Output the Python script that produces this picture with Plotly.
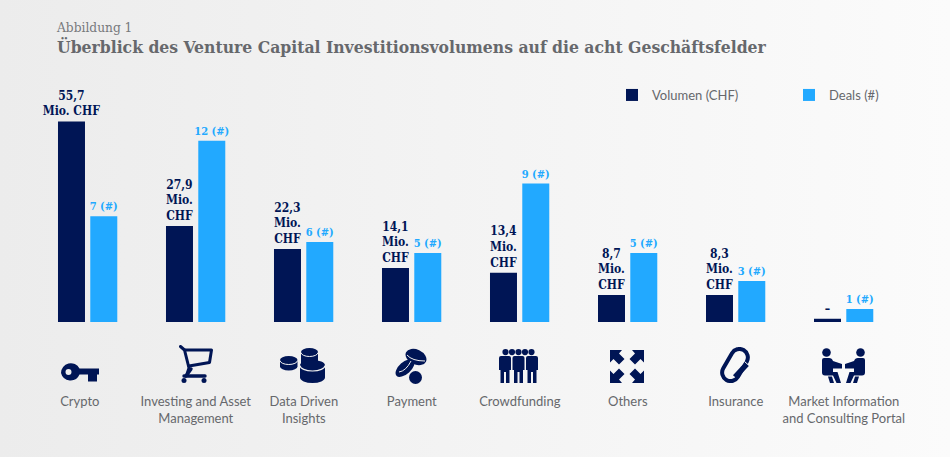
"""Venture Capital Investitionsvolumen nach Geschaeftsfeld."""
import base64

import plotly.graph_objects as go

WIDTH, HEIGHT = 950, 457
NAVY = "#001555"
SKY = "#22a9ff"
GREY = "#66686c"
SERIF = "DejaVu Serif Condensed, DejaVu Serif, serif"
SANS = "Lato, Open Sans, sans-serif"

categories = [
    "Crypto",
    "Investing and Asset<br>Management",
    "Data Driven<br>Insights",
    "Payment",
    "Crowdfunding",
    "Others",
    "Insurance",
    "Market Information<br>and Consulting Portal",
]
# Die Balken im Original sind nicht proportional: Hoehen
volume_bars = [55.7, 26.7, 20.3, 15.0, 13.7, 7.5, 7.5, 0.9]
deals_bars = [7.0, 12.0, 5.3, 4.57, 9.17, 4.57, 2.72, 0.86]
volume_labels = [
    "55,7<br>Mio. CHF",
    "27,9<br>Mio.<br>CHF",
    "22,3<br>Mio.<br>CHF",
    "14,1<br>Mio.<br>CHF",
    "13,4<br>Mio.<br>CHF",
    "8,7<br>Mio.<br>CHF",
    "8,3<br>Mio.<br>CHF",
    "–",
]
deals_labels = ["7 (#)", "12 (#)", "6 (#)", "5 (#)", "9 (#)", "5 (#)", "3 (#)", "1 (#)"]


def svg_uri(body, w, h):
    svg = (f'<svg xmlns="http://www.w3.org/2000/svg" width="{w}" height="{h}" '
           f'viewBox="0 0 {w} {h}" preserveAspectRatio="none">{body}</svg>')
    return "data:image/svg+xml;base64," + base64.b64encode(svg.encode()).decode()


def cylinder(x, y, w, h, ry):
    return (f'<path d="M{x},{y + ry}A{w / 2},{ry} 0 0 1 {x + w},{y + ry}V{y + h - ry}'
            f'A{w / 2},{ry} 0 0 1 {x},{y + h - ry}Z" fill="{NAVY}"/>')


def rim(x, y, w, ry, width=1):
    return (f'<path d="M{x},{y}A{w / 2},{ry} 0 0 0 {x + w},{y}" fill="none" '
            f'stroke="#f0f0f0" stroke-width="{width}"/>')


def person(tx=""):
    return (f'<g transform="{tx}" fill="{NAVY}" stroke="none">'
            '<circle cx="4.5" cy="4.5" r="4.3"/>'
            '<path d="M2,10H7Q10,10 11,13L20,16V20.5H11L11,24H15.5L19,35H14.5L11,27.5H3Q0,27.5 0,24.5V12Q0,10 2,10Z"/>'
            '<path d="M6,28.5H10L12,35H8Z"/></g>')


arrow = f'<path d="M0,0H12L9,3.5L14.5,9L9,14.5L3.5,9L0,12.5Z" fill="{NAVY}"/>'
body_shape = (f'<path d="M2,7H10Q12,7 12,9V21H10.5V34H7V23H5V34H1.5V21H0V9Q0,7 2,7Z" '
              f'fill="{NAVY}"/>')

# Icons unter den Balken: (x links, y oben, breite, hoehe, svg)
icons = [
    (61, 363, 38, 20,
     f'<path fill-rule="evenodd" fill="{NAVY}" d="M0,10A9.8,9.8 0 0 1 18.5,5.5H38V11.5H36V18.5H27V11.5H18.5A9.8,9.8 0 0 1 0,10Z'
     'M4.5,9A3,3 0 1 0 10.5,9A3,3 0 1 0 4.5,9Z"/>'),
    (179, 345, 34, 38,
     f'<g fill="none" stroke="{NAVY}" stroke-width="3" stroke-linecap="round" stroke-linejoin="round">'
     '<path d="M1.5,1.5L5.5,5L10,23L8,29"/><path d="M6,5H32.5L30.5,17.5L10,21"/>'
     '<path d="M5,31H26" stroke-width="3.4"/><path d="M12,24L7,31" stroke-width="3.4"/></g>'
     f'<circle cx="5" cy="35.5" r="2.5" fill="{NAVY}"/><circle cx="25" cy="35.5" r="2.5" fill="{NAVY}"/>'),
    (280, 348, 45, 35,
     cylinder(0, 8, 17.5, 14.5, 4) + rim(0, 12.5, 17.5, 4)
     + cylinder(21, 0, 17, 20, 4) + rim(21, 4.5, 17, 4)
     + cylinder(20, 12, 25, 23, 5.5) + rim(20, 17.5, 25, 5.5, 1.2)),
    (395, 347, 32, 37,
     f'<g fill="{NAVY}"><ellipse cx="21" cy="10" rx="11" ry="7.5" transform="rotate(25 21 10)"/>'
     '<ellipse cx="10" cy="21" rx="11.5" ry="6" transform="rotate(-42 10 21)"/>'
     '<circle cx="20.5" cy="30.5" r="6.5"/></g>'
     '<path d="M12,8Q17,14 30,14" fill="none" stroke="#f0f0f0" stroke-width="1"/>'
     '<path d="M4,25Q11,24 16,14" fill="none" stroke="#f0f0f0" stroke-width="1"/>'),
    (499, 349, 39, 34,
     "".join(f'<circle cx="{cx}" cy="3.1" r="3.1" fill="{NAVY}"/>' for cx in (6.5, 13, 19.5, 26, 32.5))
     + "".join(f'<g transform="translate({tx},0)">{body_shape}</g>' for tx in (0, 13.5, 27))),
    (610, 350, 34, 33,
     arrow + f'<g transform="translate(34,0) scale(-1,1)">{arrow}</g>'
     + f'<g transform="translate(0,33) scale(1,-1)">{arrow}</g>'
     + f'<g transform="translate(34,33) scale(-1,-1)">{arrow}</g>'),
    (719, 347, 32, 36,
     f'<rect x="7.5" y="0.8" width="17" height="34.4" rx="8.5" fill="none" stroke="{NAVY}" stroke-width="4" '
     'transform="rotate(30 16 18)"/>'
     f'<path d="M28,17L16,30" stroke="{NAVY}" stroke-width="5.5"/>'
     '<path d="M25.5,14.5L30,18.5" stroke="#f6f6f6" stroke-width="1"/>'),
    (822, 348, 43, 35,
     person() + person("translate(43,0) scale(-1,1)")),
]

fig = go.Figure()

fig.add_trace(go.Bar(
    x=list(range(len(categories))),
    y=volume_bars,
    name="Volumen (CHF)",
    legend="legend",
    width=0.25,
    offset=-0.276,
    marker=dict(color=NAVY, line=dict(width=0)),
    text=volume_labels,
    textposition="outside",
    textangle=0,
    constraintext="none",
    cliponaxis=False,
    textfont=dict(color=NAVY, size=12, family=SERIF, weight="bold"),
))
fig.add_trace(go.Bar(
    x=list(range(len(categories))),
    y=deals_bars,
    yaxis="y2",
    name="Deals (#)",
    legend="legend2",
    width=0.25,
    offset=0.023,
    marker=dict(color=SKY, line=dict(width=0)),
    text=deals_labels,
    textposition="outside",
    textangle=0,
    constraintext="none",
    cliponaxis=False,
    textfont=dict(color=SKY, size=11, family=SERIF, weight="bold"),
))

images = [dict(
    source=svg_uri(
        '<defs><linearGradient id="g"><stop offset="0" stop-color="#ececec"/>'
        '<stop offset="1" stop-color="#fbfbfb"/></linearGradient></defs>'
        f'<rect width="{WIDTH}" height="{HEIGHT}" fill="url(#g)"/>', WIDTH, HEIGHT),
    xref="paper", yref="paper", x=0, y=1, sizex=1, sizey=1,
    sizing="stretch", xanchor="left", yanchor="top", layer="below",
)]
for left, top, w, h, body in icons:
    images.append(dict(
        source=svg_uri(body, w, h),
        xref="paper", yref="paper",
        x=left / WIDTH, y=1 - top / HEIGHT,
        sizex=w / WIDTH, sizey=h / HEIGHT,
        sizing="stretch", xanchor="left", yanchor="top", layer="above",
    ))

# "Crypto" steht im Original links der Gruppenmitte
tick_positions = [i - (0.074 if i == 0 else 0) for i in range(len(categories))]

legend_style = dict(
    orientation="h",
    y=1 - 95 / HEIGHT, xanchor="left", yanchor="middle",
    font=dict(color=GREY, size=13, family=SANS),
    bgcolor="rgba(0,0,0,0)",
)

fig.update_layout(
    width=WIDTH,
    height=HEIGHT,
    margin=dict(l=0, r=0, t=0, b=0),
    paper_bgcolor="rgba(0,0,0,0)",
    plot_bgcolor="rgba(0,0,0,0)",
    barmode="overlay",
    images=images,
    title=dict(
        text="Überblick des Venture Capital Investitionsvolumens auf die acht Geschäftsfelder",
        x=57 / WIDTH, xanchor="left",
        y=1 - 47 / HEIGHT, yanchor="middle",
        font=dict(color=GREY, size=17.4, family=SERIF, weight="bold"),
    ),
    annotations=[dict(
        text="Abbildung 1",
        xref="paper", yref="paper", x=54 / WIDTH, y=1 - 27 / HEIGHT,
        xanchor="left", yanchor="middle", showarrow=False,
        font=dict(color="#77797c", size=13.6, family=SERIF),
    )],
    xaxis=dict(
        range=[-87.8 / 108, (WIDTH - 87.8) / 108],
        tickmode="array",
        tickvals=tick_positions,
        ticktext=categories,
        ticks="outside",
        ticklen=67,
        tickcolor="rgba(0,0,0,0)",
        tickfont=dict(color=GREY, size=13, family=SANS),
        tickangle=0,
        showgrid=False,
        zeroline=False,
        showline=False,
    ),
    yaxis=dict(domain=[135 / HEIGHT, 1 - 60 / HEIGHT], range=[0, 262 / 3.6], visible=False),
    yaxis2=dict(domain=[135 / HEIGHT, 1 - 60 / HEIGHT], range=[0, 262 / 15.1],
                overlaying="y", visible=False),
    showlegend=True,
    legend=dict(x=612 / WIDTH, **legend_style),
    legend2=dict(x=789 / WIDTH, **legend_style),
    hovermode=False,
)

fig.write_html("out.html", config=dict(displayModeBar=False),
               post_script="document.body.style.margin='0';")
